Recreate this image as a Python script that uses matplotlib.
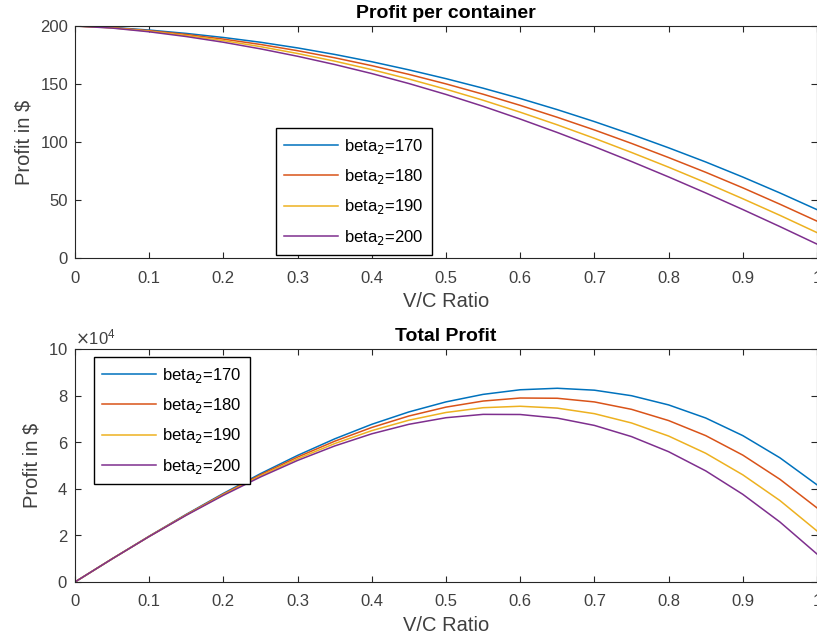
import matplotlib
matplotlib.use("Agg")
import matplotlib.pyplot as plt
from matplotlib.ticker import FuncFormatter, ScalarFormatter

plt.rcParams['font.family'] = ['Liberation Sans', 'DejaVu Sans']

# V/C ratio samples
vc = [0.00, 0.05, 0.10, 0.15, 0.20, 0.25, 0.30, 0.35, 0.40, 0.45, 0.50,
      0.55, 0.60, 0.65, 0.70, 0.75, 0.80, 0.85, 0.90, 0.95, 1.00]
labels = ['beta$_2$=170', 'beta$_2$=180', 'beta$_2$=190', 'beta$_2$=200']

# profit per container ($)
per_170 = [200, 198.8, 196.5, 193.6, 190.1, 186.0, 181.1, 175.5, 169.2, 162.2, 154.6,
           146.4, 137.5, 127.9, 117.6, 106.6, 95.0, 82.8, 69.8, 56.1, 41.7]
per_180 = [200, 198.6, 196.0, 192.7, 188.7, 184.1, 178.7, 172.6, 165.8, 158.3, 150.1,
           141.2, 131.6, 121.3, 110.4, 98.8, 86.6, 73.9, 60.5, 46.4, 31.8]
per_190 = [200, 198.4, 195.5, 191.8, 187.4, 182.2, 176.3, 169.7, 162.4, 154.3, 145.5,
           136.0, 125.7, 114.8, 103.2, 91.0, 78.3, 65.0, 51.1, 36.8, 21.9]
per_200 = [200, 198.2, 195.0, 190.9, 186.0, 180.3, 173.9, 166.8, 159.0, 150.4, 141.0,
           130.8, 119.8, 108.2, 96.0, 83.2, 69.9, 56.1, 41.8, 27.1, 12.0]

# total profit ($)
tot_170 = [0, 9940, 19650, 29040, 38020, 46500, 54330, 61430, 67680, 72990, 77300,
           80520, 82500, 83140, 82320, 79950, 76000, 70380, 62820, 53300, 41700]
tot_180 = [0, 9930, 19600, 28900, 37740, 46020, 53610, 60410, 66320, 71240, 75050,
           77660, 78960, 78850, 77280, 74100, 69280, 62820, 54450, 44080, 31800]
tot_190 = [0, 9920, 19550, 28770, 37480, 45550, 52890, 59400, 64960, 69440, 72750,
           74800, 75420, 74620, 72240, 68250, 62640, 55250, 45990, 34960, 21900]
tot_200 = [0, 9910, 19500, 28640, 37200, 45080, 52170, 58380, 63600, 67680, 70500,
           71940, 71880, 70330, 67200, 62400, 55920, 47690, 37620, 25750, 12000]

colors = ['#0072BD', '#D95319', '#EDB120', '#7E2F8E']
axcol = '#262626'
txtcol = '#404040'

fig = plt.figure(figsize=(8.17, 6.42), dpi=100)
ax1 = fig.add_axes([0.0918, 0.5981, 0.9082, 0.3614])
ax2 = fig.add_axes([0.0918, 0.0935, 0.9082, 0.3629])


def style(ax):
    ax.set_xlim(0, 1)
    ax.set_xticks([0, 0.1, 0.2, 0.3, 0.4, 0.5, 0.6, 0.7, 0.8, 0.9, 1])
    ax.xaxis.set_major_formatter(FuncFormatter(lambda v, p: '%g' % round(v, 2)))
    ax.tick_params(direction='in', length=4, width=0.8, top=True, right=True,
                   colors=axcol, labelsize=12, labelcolor=txtcol)
    ax.tick_params(axis='x', pad=9)
    ax.tick_params(axis='y', pad=5)
    for s in ax.spines.values():
        s.set_color(axcol)
        s.set_linewidth(0.8)
    ax.set_xlabel('V/C Ratio', fontsize=14.5, color=txtcol, labelpad=5)
    ax.set_ylabel(r'Profit in \$', fontsize=14.5, color=txtcol, labelpad=5)


def legend(ax, loc, anchor):
    ax.legend(loc=loc, bbox_to_anchor=anchor, borderaxespad=0, fancybox=False,
              edgecolor='black', framealpha=1, fontsize=12, handlelength=3.2,
              labelspacing=0.68, borderpad=0.5, handletextpad=0.4)


for ys, c, lab in zip([per_170, per_180, per_190, per_200], colors, labels):
    ax1.plot(vc, ys, color=c, lw=1.1, label=lab)
style(ax1)
ax1.set_ylim(0, 200)
ax1.set_yticks([0, 50, 100, 150, 200])
ax1.set_title('Profit per container', fontsize=14, fontweight='bold', pad=6)
legend(ax1, 'lower left', (0.271, 0.013))

for ys, c, lab in zip([tot_170, tot_180, tot_190, tot_200], colors, labels):
    ax2.plot(vc, ys, color=c, lw=1.1, label=lab)
style(ax2)
ax2.set_ylim(0, 100000)
ax2.set_yticks([0, 20000, 40000, 60000, 80000, 100000])
fmt = ScalarFormatter(useMathText=True)
fmt.set_powerlimits((4, 4))
ax2.yaxis.set_major_formatter(fmt)
ax2.yaxis.get_offset_text().set_fontsize(12)
ax2.yaxis.get_offset_text().set_color(txtcol)
ax2.set_title('Total Profit', fontsize=14, fontweight='bold', pad=6)
legend(ax2, 'upper left', (0.0256, 0.964))

fig.savefig('out.png', dpi=100)
